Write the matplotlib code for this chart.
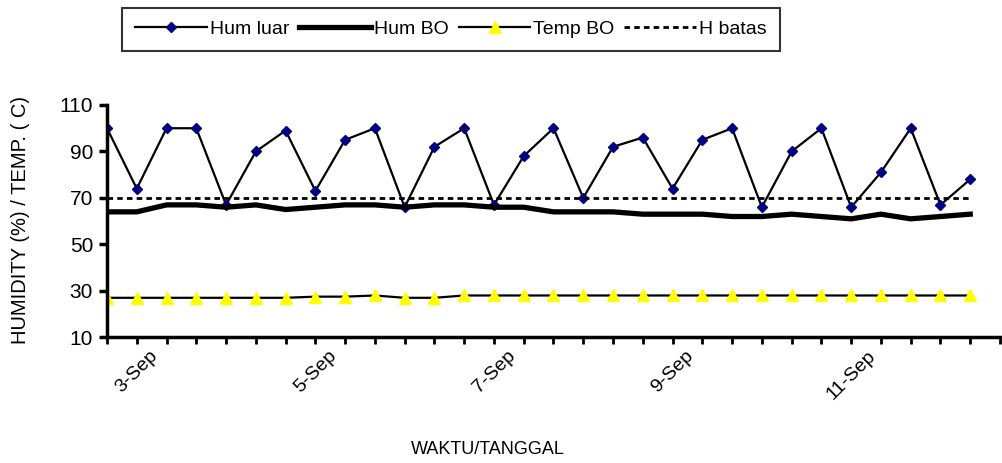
import matplotlib
matplotlib.use("Agg")
import matplotlib.pyplot as plt

plt.rcParams["font.family"] = ["Liberation Sans", "DejaVu Sans"]

# readings, three per day
hum_luar = [100, 74, 100, 100, 67, 90, 99, 73, 95, 100, 66, 92, 100, 67, 88,
            100, 70, 92, 96, 74, 95, 100, 66, 90, 100, 66, 81, 100, 67, 78]
hum_bo = [64, 64, 67, 67, 66, 67, 65, 66, 67, 67, 66, 67, 67, 66, 66,
          64, 64, 64, 63, 63, 63, 62, 62, 63, 62, 61, 63, 61, 62, 63]
temp_bo = [27, 27, 27, 27, 27, 27, 27, 27.5, 27.5, 28, 27, 27, 28, 28, 28,
           28, 28, 28, 28, 28, 28, 28, 28, 28, 28, 28, 28, 28, 28, 28]
h_batas = [70] * 30
date_labels = {1: "3-Sep", 7: "5-Sep", 13: "7-Sep", 19: "9-Sep", 25: "11-Sep"}

x = list(range(len(hum_luar)))

fig = plt.figure(figsize=(10.03, 4.63), dpi=100)
ax = fig.add_axes([107 / 1003, 1 - 337.3 / 463, 893 / 1003, (337.3 - 105) / 463])

l1, = ax.plot(x, hum_luar, color="black", lw=1.6, marker="D", ms=5.5,
              mfc="#000080", mec="#000080", label="Hum luar")
l2, = ax.plot(x, hum_bo, color="black", lw=3.8, label="Hum BO")
l3, = ax.plot(x, temp_bo, color="black", lw=1.6, marker="^", ms=8.5,
              mfc="#ffff00", mec="#ffff00", label="Temp BO")
l4, = ax.plot(x, h_batas, color="black", lw=2, ls=(0, (2, 1.5)), label="H batas")

ax.set_xlim(0, 30)
ax.set_ylim(10, 110)
ax.set_yticks(range(10, 111, 20))
ax.set_xticks(range(0, 31))
ax.set_xticklabels([date_labels.get(i, "") for i in range(31)],
                   rotation=45, ha="center", fontsize=14)
ax.tick_params(axis="x", direction="out", length=5, width=2, pad=2)
ax.tick_params(axis="y", direction="out", length=6, width=2.5, labelsize=15, pad=4)
for s in ["top", "right"]:
    ax.spines[s].set_visible(False)
for s in ["left", "bottom"]:
    ax.spines[s].set_linewidth(2.5)

fig.text(21 / 1003, 1 - 220 / 463, "HUMIDITY (%) / TEMP. ( C)", rotation=90,
         ha="center", va="center", fontsize=14.5)
fig.text(488 / 1003, 1 - 449 / 463, "WAKTU/TANGGAL", ha="center", va="center", fontsize=13)

leg = fig.legend(handles=[l1, l2, l3, l4], loc="upper center", ncol=4,
                 bbox_to_anchor=(451 / 1003, 1 - 8 / 463), fontsize=14,
                 frameon=True, fancybox=False, edgecolor="black",
                 handlelength=3.7, handletextpad=0.15, columnspacing=0.5,
                 borderpad=0.65, borderaxespad=0)
leg.get_frame().set_linewidth(1.5)

fig.savefig("out.png", dpi=100)
